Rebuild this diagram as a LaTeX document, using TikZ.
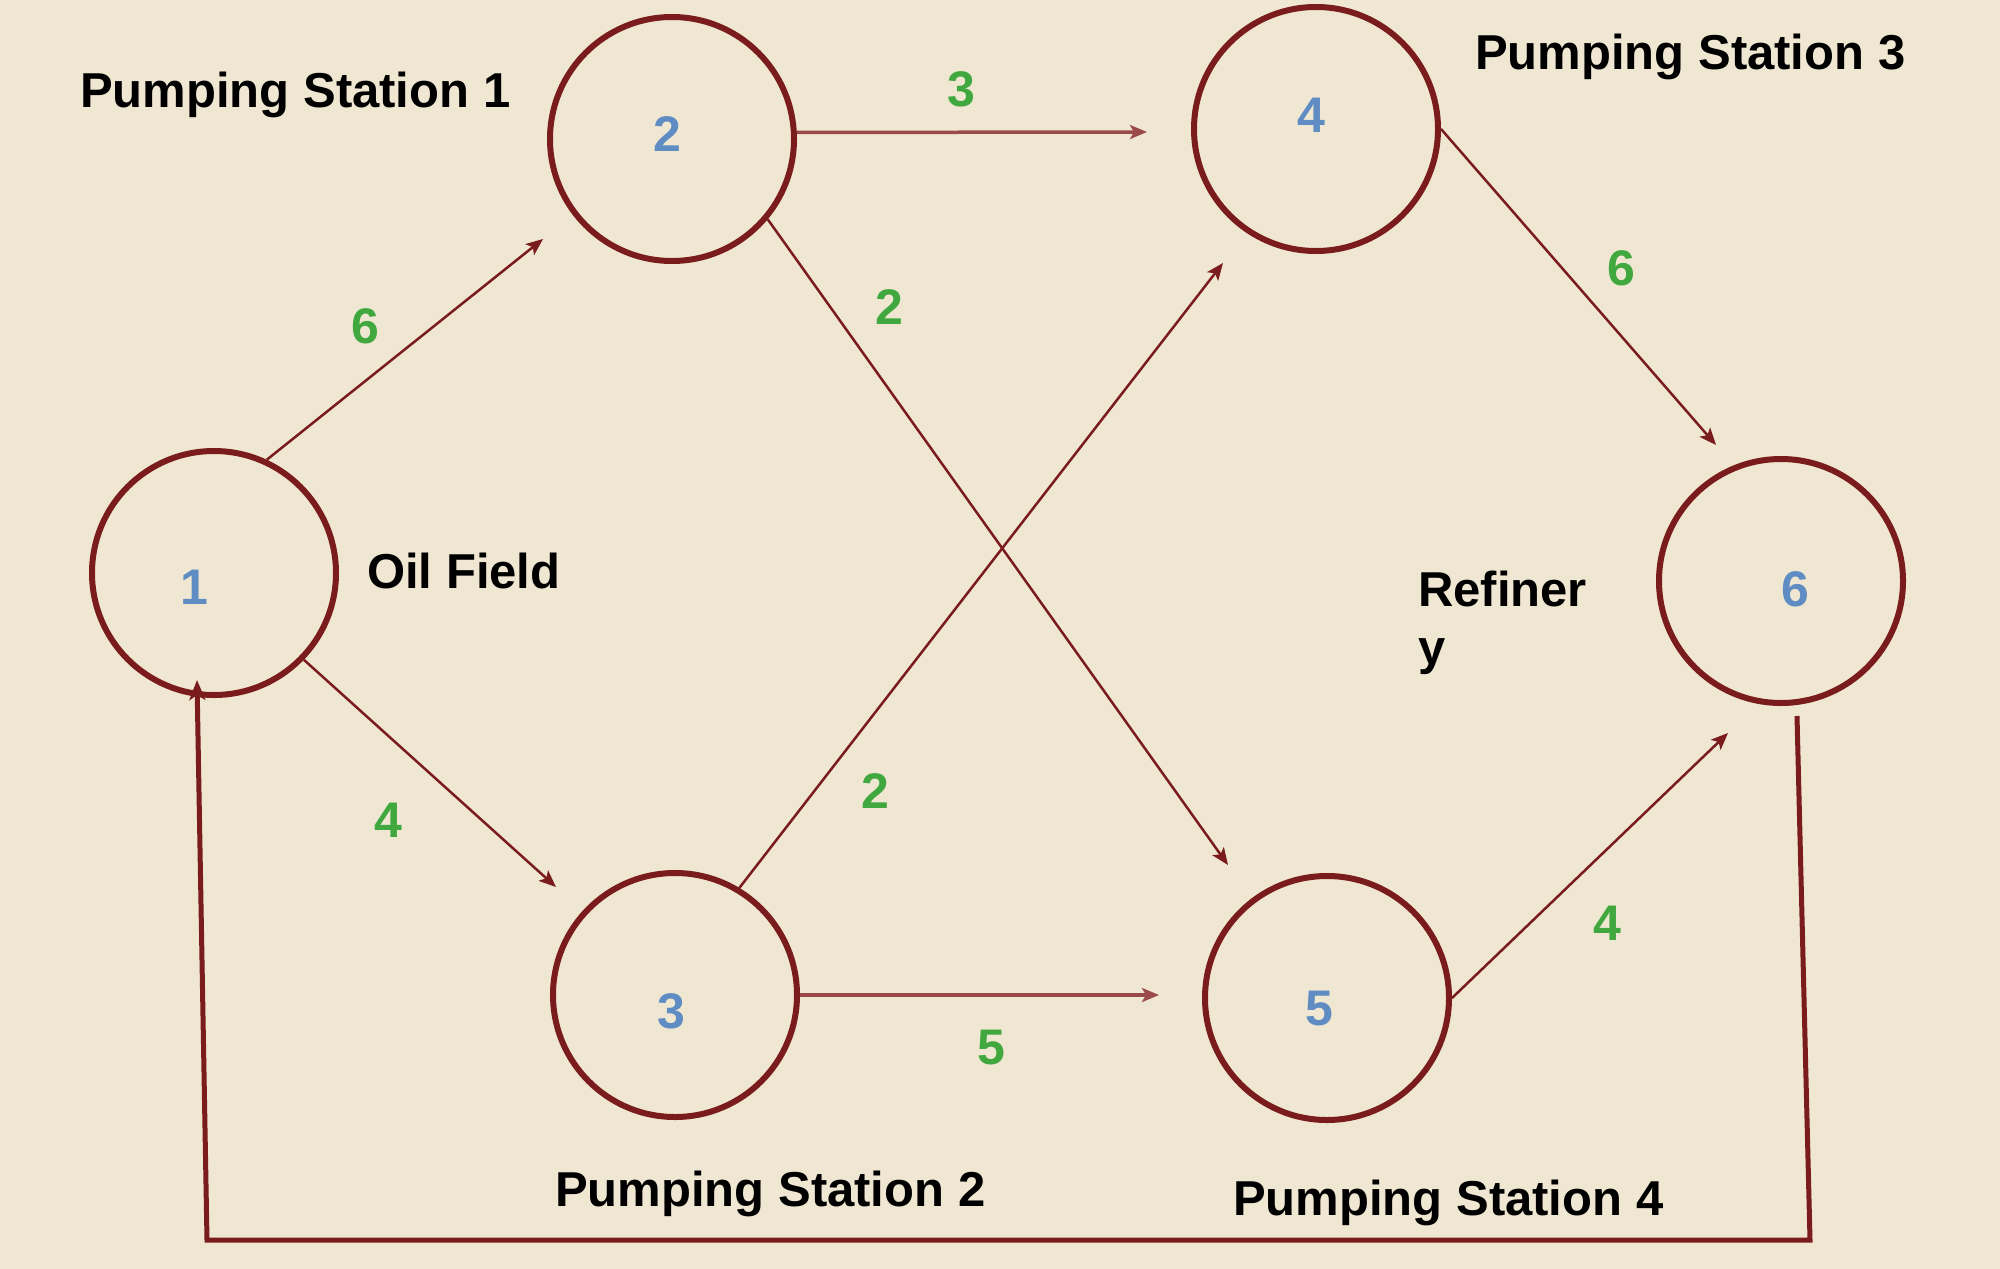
\documentclass[tikz,border=0pt]{standalone}
\usepackage{fontspec}
\setmainfont{Liberation Sans}
\usetikzlibrary{arrows.meta}
\definecolor{bgc}{HTML}{EFE7D2}
\definecolor{maroon}{HTML}{7A1C1E}
\definecolor{edgelight}{HTML}{9A4A4A}
\definecolor{numblue}{HTML}{5F8CC2}
\definecolor{wgreen}{HTML}{40A83F}
\tikzset{
  station/.style={circle, draw=maroon, line width=6pt, minimum size=244pt, inner sep=0pt},
  numlbl/.style={text=numblue, inner sep=0pt, font=\fontsize{50}{60}\selectfont\bfseries},
  wlbl/.style={text=wgreen, inner sep=0pt, font=\fontsize{50}{60}\selectfont\bfseries},
  tlbl/.style={text=black, inner sep=0pt, font=\fontsize{49}{58}\selectfont\bfseries, anchor=base west},
  flow/.style={draw=maroon, line width=2.5pt, -{Stealth[length=17pt,width=14pt,inset=4pt]}},
  flowh/.style={draw=edgelight, line width=3.5pt, -{Stealth[length=17pt,width=14pt,inset=4pt]}},
  loopline/.style={draw=maroon, line width=5pt, -{Stealth[length=20pt,width=16pt,inset=5pt]}}
}
\begin{document}
\begin{tikzpicture}[x=1pt,y=-1pt]
\path[fill=bgc, use as bounding box] (0,0) rectangle (2000,1269);
% stations
\node[station] (n1) at (214,573) {};
\node[station] (n2) at (672,139) {};
\node[station] (n3) at (675,995) {};
\node[station] (n4) at (1316,129) {};
\node[station] (n5) at (1327,998) {};
\node[station] (n6) at (1781,581) {};
% numbers
\node[numlbl] (l1) at (194,587) {1};
\node[numlbl] (l2) at (667,134) {2};
\node[numlbl] (l3) at (671,1011) {3};
\node[numlbl] (l4) at (1311,115) {4};
\node[numlbl] (l5) at (1319,1009) {5};
\node[numlbl] (l6) at (1795,589) {6};
% tips
\coordinate (t12) at (543,239);
\coordinate (t13) at (556,887);
\coordinate (t24) at (1147,132);
\coordinate (t25) at (1228,865);
\coordinate (t34) at (1223,263);
\coordinate (t35) at (1159,995);
\coordinate (t46) at (1716,445);
\coordinate (t56) at (1728,733);
\coordinate (s6) at (1797,716);
\coordinate (c1) at (1810,1240);
\coordinate (c2) at (207,1240);
\coordinate (t61) at (197,680);
% edges
\draw[flow] (n1.65) -- (t12);
\draw[flow] (n1.-44) -- (t13);
\draw[flowh] (n2.3) -- (t24);
\draw[flow] (n2.-40) -- (t25);
\draw[flow] (n3.59) -- (t34);
\draw[flowh] (n3.east) -- (t35);
\draw[flow] (n4.east) -- (t46);
\draw[flow] (n5.east) -- (t56);
\draw[loopline] (s6) -- (c1) -- (c2) -- (t61);
% weights
\node[wlbl] (w12) at (365,326) {6};
\node[wlbl] (w13) at (388,820) {4};
\node[wlbl] (w24) at (961,89) {3};
\node[wlbl] (w25) at (889,307) {2};
\node[wlbl] (w34) at (875,791) {2};
\node[wlbl] (w35) at (991,1048) {5};
\node[wlbl] (w46) at (1621,268) {6};
\node[wlbl] (w56) at (1607,923) {4};
% text labels
\node[tlbl] (p1) at (80,107) {Pumping Station 1};
\node[tlbl] (p3) at (1475,69) {Pumping Station 3};
\node[tlbl] (p2) at (555,1206) {Pumping Station 2};
\node[tlbl] (p4) at (1233,1215) {Pumping Station 4};
\node[tlbl] (of) at (367,588) {Oil Field};
\node[tlbl, anchor=north west, align=left] (rf) at (1418,571) {Refiner\\y};
\end{tikzpicture}
\end{document}
